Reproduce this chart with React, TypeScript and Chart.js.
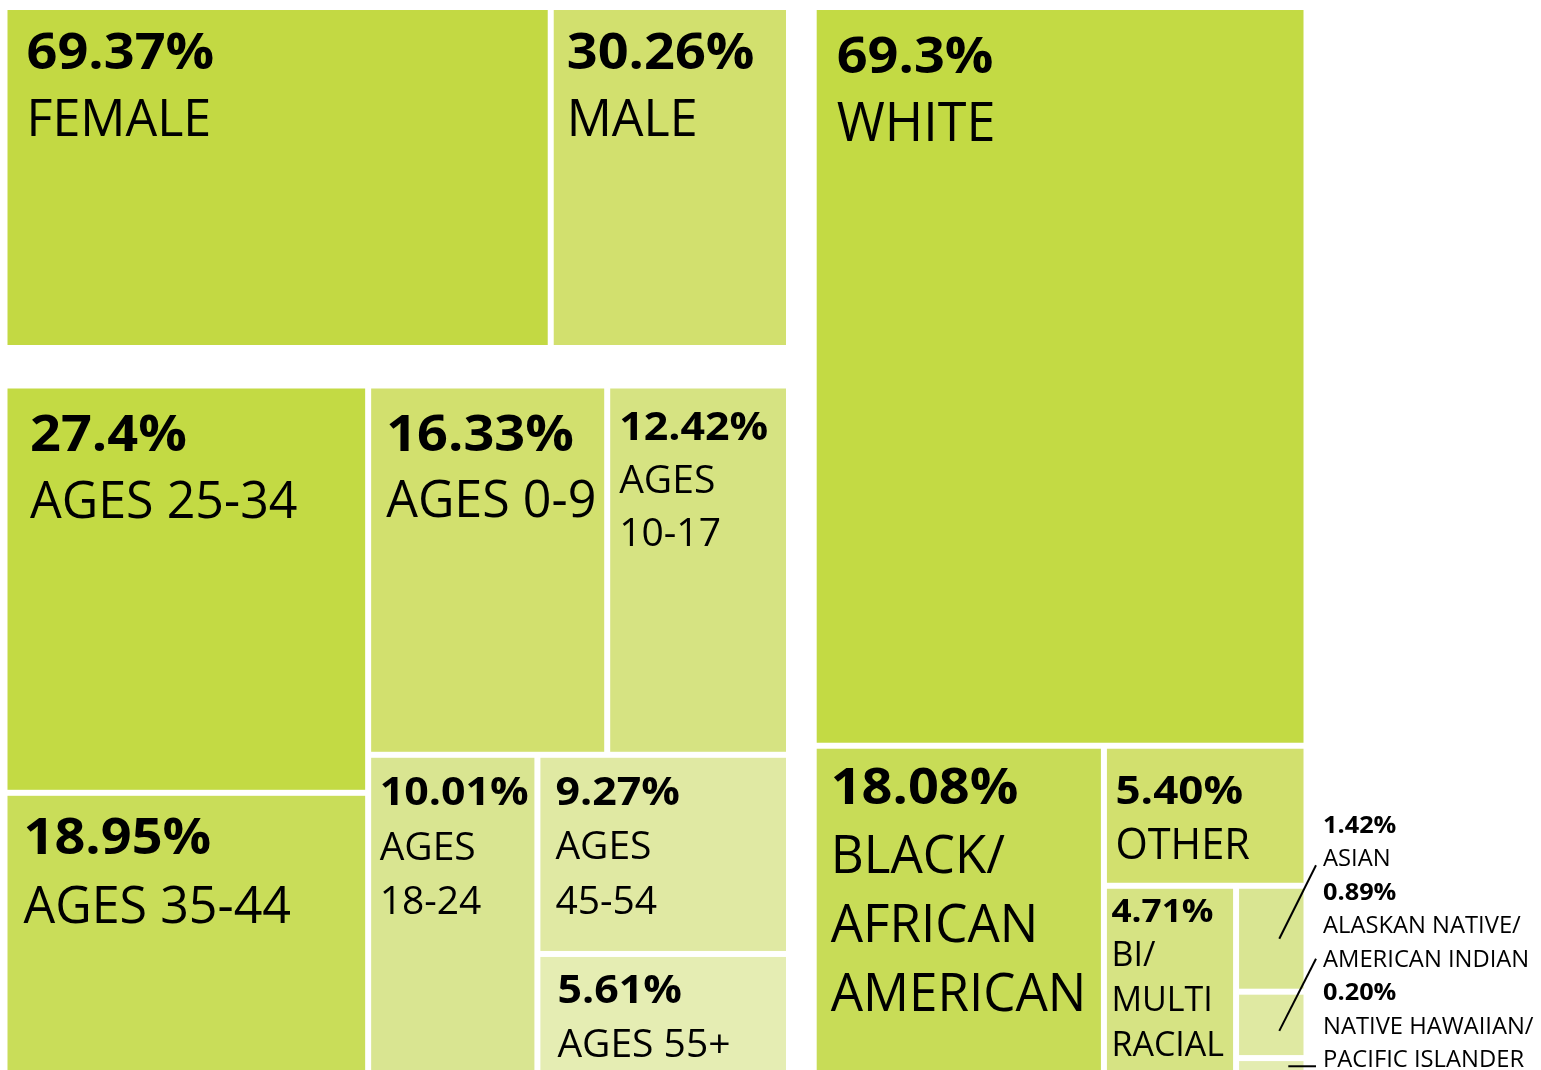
import { useEffect, useRef } from "react";
import { Chart, registerables } from "chart.js";

Chart.register(...registerables);

// ---------------- DATA ----------------
const genderLabels = ["FEMALE", "MALE"];
const genderValues = [69.37, 30.26];
const genderPct = ["69.37%", "30.26%"];

const ageLabels = ["AGES 25-34", "AGES 35-44", "AGES 0-9", "AGES\n10-17", "AGES\n18-24", "AGES\n45-54", "AGES 55+"];
const ageValues = [27.4, 18.95, 16.33, 12.42, 10.01, 9.27, 5.61];
const agePct = ["27.4%", "18.95%", "16.33%", "12.42%", "10.01%", "9.27%", "5.61%"];

const raceLabels = [
  "WHITE",
  "BLACK/\nAFRICAN\nAMERICAN",
  "OTHER",
  "BI/\nMULTI\nRACIAL",
  "ASIAN",
  "ALASKAN NATIVE/\nAMERICAN INDIAN",
  "NATIVE HAWAIIAN/\nPACIFIC ISLANDER",
];
const raceValues = [69.3, 18.08, 5.4, 4.71, 1.42, 0.89, 0.2];
const racePct = ["69.3%", "18.08%", "5.40%", "4.71%", "1.42%", "0.89%", "0.20%"];

// ---------------- STYLE ----------------
const genderColors = ["#c3d943", "#d2e06e"];
const ageColors = ["#c3da44", "#c9dd59", "#d2e06e", "#d6e382", "#d9e591", "#e0e9a3", "#e5edb3"];
const raceColors = ["#c3da44", "#c8dc57", "#d2e06e", "#d6e383", "#d9e592", "#dfe9a2", "#e3ecb0"];

// text style per cell: [padX, firstBaseline, lineHeight, pctSize, labelSize] ; null = label placed outside
const genderText = [
  [19, 59, 67, 51, 52],
  [13, 59, 67, 51, 52],
];
const ageText = [
  [22.5, 62, 67.5, 51, 52],
  [16, 58.5, 68.5, 51, 52],
  [15, 62.5, 66, 51, 52],
  [9, 51, 53, 39, 39],
  [8.5, 47.5, 54.5, 39, 39],
  [15, 47, 54.5, 39, 39],
  [17, 46.5, 54, 39, 39],
];
const raceText = [
  [20, 62.5, 68, 51, 54],
  [14, 55, 69, 51, 53],
  [8.5, 55, 55, 40, 43],
  [4.5, 33, 44.7, 32, 34],
  null,
  null,
  null,
];

// group areas in chart units (x0, y0, x1, y1)
const genderBox = [4.5, 7, 789, 348];
const ageBox = [4.5, 385.5, 789, 1074.5];
const raceBox = [813.7, 7, 1306.5, 1073];

const GAP = 3;
const FONT = "'Open Sans', 'Noto Sans', sans-serif";

type Rect = { x: number; y: number; w: number; h: number };

function worst(row: number[], side: number) {
  const s = row.reduce((a, b) => a + b, 0);
  const mx = Math.max(...row);
  const mn = Math.min(...row);
  return Math.max((side * side * mx) / (s * s), (s * s) / (side * side * mn));
}

function squarify(values: number[], box: number[]): Rect[] {
  let rect = { x: box[0], y: box[1], w: box[2] - box[0], h: box[3] - box[1] };
  const total = values.reduce((a, b) => a + b, 0);
  const k = (rect.w * rect.h) / total;
  const areas = values.map((v) => v * k);
  const out: Rect[] = [];
  let i = 0;
  while (i < areas.length) {
    const side = Math.min(rect.w, rect.h);
    let row = [areas[i]];
    let best = worst(row, side);
    let j = i + 1;
    while (j < areas.length) {
      const cand = [...row, areas[j]];
      const wv = worst(cand, side);
      if (wv <= best * 1.03) {
        row = cand;
        best = wv;
        j++;
      } else break;
    }
    const sum = row.reduce((a, b) => a + b, 0);
    if (rect.w >= rect.h) {
      const cw = sum / rect.h;
      let y = rect.y;
      for (const a of row) {
        const hh = a / cw;
        out.push({ x: rect.x, y, w: cw, h: hh });
        y += hh;
      }
      rect = { x: rect.x + cw, y: rect.y, w: rect.w - cw, h: rect.h };
    } else {
      const rh = sum / rect.w;
      let x = rect.x;
      for (const a of row) {
        const ww = a / rh;
        out.push({ x, y: rect.y, w: ww, h: rh });
        x += ww;
      }
      rect = { x: rect.x, y: rect.y + rh, w: rect.w, h: rect.h - rh };
    }
    i = j;
  }
  return out;
}

const groups = [
  { labels: genderLabels, values: genderValues, pct: genderPct, colors: genderColors, text: genderText, box: genderBox },
  { labels: ageLabels, values: ageValues, pct: agePct, colors: ageColors, text: ageText, box: ageBox },
  { labels: raceLabels, values: raceValues, pct: racePct, colors: raceColors, text: raceText, box: raceBox },
];

function drawText(ctx: CanvasRenderingContext2D, text: string, x: number, y: number, sx: number) {
  ctx.save();
  ctx.translate(x, y);
  ctx.scale(sx, 1);
  ctx.fillText(text, 0, 0);
  ctx.restore();
}

const treemapPlugin = {
  id: "treemapCells",
  afterDatasetsDraw(chart: any) {
    const ctx = chart.ctx as CanvasRenderingContext2D;
    const xs = chart.scales.x;
    const ys = chart.scales.y;
    const px = (v: number) => xs.getPixelForValue(v);
    const py = (v: number) => ys.getPixelForValue(v);
    ctx.save();
    ctx.textAlign = "left";
    ctx.textBaseline = "alphabetic";
    for (const g of groups) {
      const rects = squarify(g.values, g.box);
      const outside: { r: Rect; i: number }[] = [];
      rects.forEach((r, i) => {
        const x0 = px(r.x + GAP);
        const x1 = px(r.x + r.w - GAP);
        const y0 = py(r.y + GAP);
        const y1 = py(r.y + r.h - GAP);
        ctx.fillStyle = g.colors[i];
        ctx.fillRect(x0, y0, x1 - x0, y1 - y0);
        const t = g.text[i];
        if (!t) {
          outside.push({ r, i });
          return;
        }
        const [pad, base, lh, fp, fl] = t as number[];
        ctx.fillStyle = "#000";
        ctx.font = `bold ${fp}px ${FONT}`;
        drawText(ctx, g.pct[i], x0 + pad, y0 + base, fp >= 45 ? 1.06 : 1.1);
        ctx.font = `${fl}px ${FONT}`;
        const ls = fl >= 42 ? 0.965 : 1;
        g.labels[i].split("\n").forEach((line, li) => {
          drawText(ctx, line, x0 + pad, y0 + base + lh * (li + 1), ls);
        });
      });
      if (outside.length) {
        const lx = px(g.box[2] + 16.5);
        const first = outside[0].r;
        let yb = py(first.y + GAP) - 56;
        const step = 33.5;
        ctx.fillStyle = "#000";
        ctx.strokeStyle = "#000";
        ctx.lineWidth = 2;
        outside.forEach(({ r, i }, k) => {
          ctx.font = `bold 23px ${FONT}`;
          drawText(ctx, g.pct[i], lx, yb, 1.1);
          const lines = g.labels[i].split("\n");
          ctx.font = `24px ${FONT}`;
          lines.forEach((line) => {
            yb += step;
            drawText(ctx, line, lx, yb, 0.99);
          });
          const sx = lx - 7;
          const sy = yb - (k === 1 ? 8 : 1);
          const cx = px(r.x + r.w / 2) + (k === 2 ? 17 : 8);
          const cy = py(r.y + r.h / 2) + (k === 1 ? 6 : 0);
          ctx.beginPath();
          ctx.moveTo(sx, sy);
          ctx.lineTo(cx, k === 2 ? sy : cy);
          ctx.stroke();
          yb += step;
        });
      }
    }
    ctx.restore();
  },
};

export default function App() {
  const ref = useRef<HTMLCanvasElement | null>(null);
  useEffect(() => {
    document.body.style.margin = "0";
    document.body.style.overflow = "hidden";
    const canvas = ref.current;
    if (!canvas) return;
    const chart = new Chart(canvas, {
      type: "scatter",
      data: {
        datasets: [
          { label: "Gender", data: [] },
          { label: "Age", data: [] },
          { label: "Race", data: [] },
        ],
      },
      options: {
        animation: false,
        responsive: false,
        maintainAspectRatio: false,
        layout: { padding: 0 },
        plugins: { legend: { display: false }, tooltip: { enabled: false } },
        scales: {
          x: { type: "linear", min: 0, max: 1541, display: false },
          y: { type: "linear", min: 0, max: 1070, reverse: true, display: false },
        },
      },
      plugins: [treemapPlugin],
    });
    return () => chart.destroy();
  }, []);
  return (
    <div style={{ width: 1541, height: 1070, background: "#fff" }}>
      <canvas ref={ref} width={1541} height={1070} style={{ display: "block" }} />
    </div>
  );
}
